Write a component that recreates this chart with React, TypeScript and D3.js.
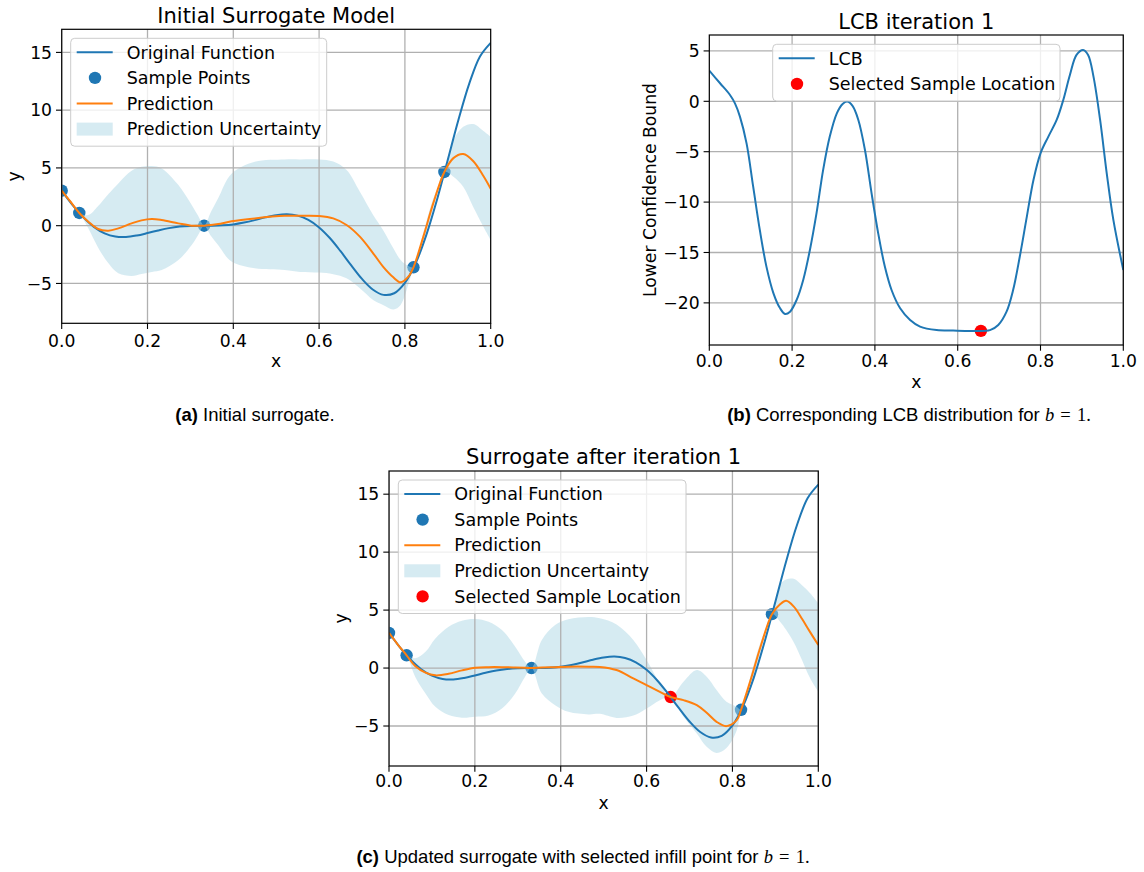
import React from "react";
import * as d3 from "d3";

const W = 1144;
const H = 872;
const FONT = "DejaVu Sans, Verdana, sans-serif";
const CAPTION_FONT = "Liberation Sans, Arial, Helvetica, sans-serif";
const MATH_FONT = "Liberation Serif, Times New Roman, serif";
const BLUE = "#1f77b4";
const ORANGE = "#ff7f0e";
const RED = "#ff0000";
const BAND = "#add8e6";
const TICK_SIZE = 17.2;
const LEGEND_SIZE = 17.5;
const TITLE_SIZE = 21;
const CAPTION_SIZE = 18.5;

// Forrester test function, sampled every 0.025
const funcX = [0, 0.025, 0.05, 0.075, 0.1, 0.125, 0.15, 0.175, 0.2, 0.225, 0.25, 0.275, 0.3, 0.325, 0.35, 0.375, 0.4, 0.425, 0.45, 0.475, 0.5, 0.525, 0.55, 0.575, 0.6, 0.625, 0.65, 0.675, 0.7, 0.725, 0.75, 0.775, 0.8, 0.825, 0.85, 0.875, 0.9, 0.925, 0.95, 0.975, 1.0];
const funcY = [3.03, 1.81, 0.74, -0.1, -0.66, -0.94, -0.98, -0.85, -0.64, -0.41, -0.21, -0.08, -0.02, 0.0, 0.0, 0.03, 0.11, 0.27, 0.48, 0.72, 0.91, 0.99, 0.87, 0.5, -0.15, -1.07, -2.21, -3.44, -4.61, -5.52, -5.99, -5.85, -4.95, -3.26, -0.8, 2.27, 5.71, 9.19, 12.3, 14.65, 15.83];

// Initial design
const sampleX = [0, 0.041, 0.332, 0.82, 0.892];
const sampleY = [3.03, 1.1, 0.0, -3.6, 4.65];

// Infill point picked by the LCB criterion
const selectedX = 0.656;
const selectedY = -2.5;
const selectedLcb = -22.78;

// Initial surrogate: prediction and uncertainty band
const predAX = [0, 0.02, 0.041, 0.062, 0.085, 0.109, 0.132, 0.163, 0.186, 0.21, 0.233, 0.272, 0.303, 0.318, 0.332, 0.348, 0.365, 0.396, 0.45, 0.52, 0.556, 0.6, 0.633, 0.664, 0.695, 0.726, 0.749, 0.773, 0.79, 0.808, 0.82, 0.843, 0.866, 0.892, 0.913, 0.936, 0.959, 0.983, 1.0];
const predAMean = [3.03, 2.1, 1.1, 0.35, -0.29, -0.43, -0.23, 0.2, 0.46, 0.58, 0.49, 0.2, 0.0, -0.01, 0.0, 0.05, 0.14, 0.38, 0.63, 0.85, 0.86, 0.84, 0.63, 0.06, -0.95, -2.39, -3.54, -4.47, -4.9, -4.41, -3.6, -0.95, 1.93, 4.65, 5.85, 6.2, 5.6, 4.3, 3.2];
const predALow = [3.03, 2.0, 1.1, -0.23, -1.9, -3.26, -4.12, -4.35, -4.18, -4.0, -3.83, -2.97, -1.67, -0.8, 0.0, -0.9, -1.7, -3.11, -3.69, -3.83, -4.0, -4.06, -4.2, -4.56, -5.42, -6.43, -6.86, -7.25, -6.86, -5.1, -3.6, -1.35, 1.5, 4.65, 4.24, 3.37, 1.64, -0.09, -1.24];
const predAHigh = [3.03, 2.2, 1.1, 0.92, 1.7, 2.74, 3.66, 4.75, 5.1, 5.16, 4.96, 3.52, 1.79, 0.85, 0.0, 1.2, 2.4, 4.5, 5.53, 5.73, 5.74, 5.74, 5.55, 4.82, 2.94, 0.93, -0.37, -1.96, -2.97, -3.5, -3.6, -0.6, 2.35, 4.65, 7.4, 8.56, 8.8, 8.2, 7.7];

// Lower confidence bound of the initial surrogate (b = 1)
const lcbX = [0, 0.026, 0.05, 0.062, 0.074, 0.09, 0.106, 0.122, 0.138, 0.155, 0.171, 0.183, 0.195, 0.211, 0.227, 0.243, 0.259, 0.275, 0.291, 0.308, 0.322, 0.333, 0.346, 0.36, 0.376, 0.392, 0.408, 0.424, 0.44, 0.461, 0.485, 0.509, 0.549, 0.589, 0.638, 0.678, 0.698, 0.718, 0.734, 0.75, 0.767, 0.783, 0.8, 0.819, 0.839, 0.855, 0.871, 0.887, 0.903, 0.915, 0.928, 0.944, 0.96, 0.976, 1.0];
const lcbY = [3.04, 1.79, 0.63, -0.2, -1.52, -4.17, -8.47, -12.76, -16.4, -19.05, -20.54, -21.1, -20.87, -19.7, -17.7, -14.75, -11.1, -6.8, -3.5, -1.19, -0.26, -0.03, -0.46, -1.85, -4.83, -9.13, -13.1, -16.4, -18.7, -20.54, -21.7, -22.35, -22.7, -22.75, -22.78, -22.7, -22.19, -20.87, -18.7, -15.4, -11.44, -7.8, -5.16, -3.5, -1.85, 0.13, 2.61, 4.6, 5.09, 4.6, 2.45, -1.85, -7.14, -11.77, -16.73];

// Surrogate refitted after the first infill point
const predCX = [0, 0.02, 0.041, 0.061, 0.085, 0.108, 0.139, 0.17, 0.201, 0.232, 0.263, 0.294, 0.317, 0.332, 0.356, 0.387, 0.418, 0.465, 0.491, 0.53, 0.569, 0.6, 0.631, 0.656, 0.686, 0.717, 0.74, 0.763, 0.786, 0.81, 0.82, 0.843, 0.866, 0.892, 0.911, 0.925, 0.943, 0.962, 0.981, 1.0];
const predCMean = [3.03, 2.05, 1.1, 0.17, -0.4, -0.63, -0.5, -0.2, 0.03, 0.08, 0.08, 0.05, 0.02, 0.0, 0.04, 0.08, 0.12, 0.12, 0.1, -0.17, -0.89, -1.47, -2.05, -2.5, -2.77, -3.2, -3.86, -4.64, -5.01, -4.5, -3.6, -0.95, 1.9, 4.65, 5.5, 5.8, 5.3, 4.25, 3.1, 1.99];
const predCLow = [3.03, 1.95, 1.1, -0.75, -2.19, -3.34, -4.06, -4.29, -4.21, -4.1, -3.5, -2.19, -0.75, 0.0, -2.19, -3.2, -3.78, -4.0, -3.95, -4.3, -4.1, -3.49, -2.77, -2.5, -4.21, -5.65, -6.8, -7.32, -6.9, -5.36, -3.6, -1.3, 1.5, 4.65, 4.0, 3.3, 2.2, 0.7, -0.89, -2.05];
const predCHigh = [3.03, 2.15, 1.1, 0.84, 1.41, 2.56, 3.57, 4.09, 4.24, 4.0, 3.29, 1.84, 0.55, 0.0, 2.42, 3.72, 4.2, 4.4, 4.29, 3.75, 2.42, 0.69, -1.33, -2.5, -1.18, -0.17, -0.75, -1.9, -2.91, -3.34, -3.6, -0.55, 2.3, 4.65, 7.18, 7.65, 7.7, 7.15, 6.46, 5.59];

// Axis ticks
const xTicks = [0, 0.2, 0.4, 0.6, 0.8, 1.0];
const yTicksSurrogate = [-5, 0, 5, 10, 15];
const yTicksLcb = [-20, -15, -10, -5, 0, 5];

type Box = { left: number; right: number; top: number; bottom: number };
type Scale = d3.ScaleLinear<number, number>;
type Pt = [number, number];

const zip = (xs: number[], ys: number[]): Pt[] => xs.map((x, i) => [x, ys[i]]);
const fmtY = (v: number) => (v < 0 ? "\u2212" + Math.abs(v) : String(v));

function linePath(x: Scale, y: Scale, pts: Pt[]) {
  return (
    d3
      .line<Pt>()
      .x((d) => x(d[0]))
      .y((d) => y(d[1]))
      .curve(d3.curveCatmullRom.alpha(0.5))(pts) || ""
  );
}

function bandPath(x: Scale, y: Scale, xs: number[], lo: number[], hi: number[]) {
  const rows = xs.map((v, i) => ({ x: v, lo: lo[i], hi: hi[i] }));
  return (
    d3
      .area<{ x: number; lo: number; hi: number }>()
      .x((d) => x(d.x))
      .y0((d) => y(d.lo))
      .y1((d) => y(d.hi))
      .curve(d3.curveCatmullRom.alpha(0.5))(rows) || ""
  );
}

type LegendItem = { kind: "line" | "dot" | "patch"; color: string; label: string };

function Legend({ x, y, width, items }: { x: number; y: number; width: number; items: LegendItem[] }) {
  const rowH = 25.6;
  const h = items.length * rowH + 5.5;
  return (
    <g>
      <rect x={x} y={y} width={width} height={h} rx={4} ry={4} fill="#ffffff" fillOpacity={0.8} stroke="#cccccc" strokeWidth={1} />
      {items.map((it, i) => {
        const cy = y + 14 + i * rowH;
        return (
          <g key={it.label}>
            {it.kind === "line" && <line x1={x + 6} x2={x + 42} y1={cy} y2={cy} stroke={it.color} strokeWidth={2} />}
            {it.kind === "dot" && <circle cx={x + 24.3} cy={cy} r={6.2} fill={it.color} />}
            {it.kind === "patch" && <rect x={x + 6} y={cy - 6.5} width={36} height={13} fill={it.color} fillOpacity={0.5} />}
            <text x={x + 56} y={cy + 6.2} fontFamily={FONT} fontSize={LEGEND_SIZE} fill="#000">
              {it.label}
            </text>
          </g>
        );
      })}
    </g>
  );
}

type PanelProps = {
  id: string;
  box: Box;
  yDomain: [number, number];
  yTicks: number[];
  title: string;
  titleY: number;
  yLabel: string;
  yLabelX: number;
  xTickY: number;
  xLabelY: number;
  under: (x: Scale, y: Scale) => React.ReactNode;
  over: (x: Scale, y: Scale) => React.ReactNode;
  legend: React.ReactNode;
};

function Panel(p: PanelProps) {
  const { box } = p;
  const x = d3.scaleLinear().domain([0, 1]).range([box.left, box.right]);
  const y = d3.scaleLinear().domain(p.yDomain).range([box.bottom, box.top]);
  const cx = (box.left + box.right) / 2;
  const cy = (box.top + box.bottom) / 2;
  const tickLen = 5.7;
  return (
    <g>
      <defs>
        <clipPath id={p.id}>
          <rect x={box.left} y={box.top} width={box.right - box.left} height={box.bottom - box.top} />
        </clipPath>
      </defs>
      <g clipPath={`url(#${p.id})`}>
        {p.under(x, y)}
        {xTicks.map((t) => (
          <line key={"gx" + t} x1={x(t)} x2={x(t)} y1={box.top} y2={box.bottom} stroke="#b0b0b0" strokeWidth={1.3} />
        ))}
        {p.yTicks.map((t) => (
          <line key={"gy" + t} x1={box.left} x2={box.right} y1={y(t)} y2={y(t)} stroke="#b0b0b0" strokeWidth={1.3} />
        ))}
        {p.over(x, y)}
      </g>
      <rect x={box.left} y={box.top} width={box.right - box.left} height={box.bottom - box.top} fill="none" stroke="#000" strokeWidth={1.2} />
      {xTicks.map((t) => (
        <g key={"tx" + t}>
          <line x1={x(t)} x2={x(t)} y1={box.bottom} y2={box.bottom + tickLen} stroke="#000" strokeWidth={1.1} />
          <text x={x(t)} y={p.xTickY} textAnchor="middle" fontFamily={FONT} fontSize={TICK_SIZE}>
            {t.toFixed(1)}
          </text>
        </g>
      ))}
      {p.yTicks.map((t) => (
        <g key={"ty" + t}>
          <line x1={box.left - tickLen} x2={box.left} y1={y(t)} y2={y(t)} stroke="#000" strokeWidth={1.1} />
          <text x={box.left - tickLen - 4} y={y(t) + 6.2} textAnchor="end" fontFamily={FONT} fontSize={TICK_SIZE}>
            {fmtY(t)}
          </text>
        </g>
      ))}
      <text x={cx} y={p.xLabelY} textAnchor="middle" fontFamily={FONT} fontSize={TICK_SIZE}>
        x
      </text>
      <text transform={`translate(${p.yLabelX},${cy}) rotate(-90)`} textAnchor="middle" fontFamily={FONT} fontSize={TICK_SIZE}>
        {p.yLabel}
      </text>
      <text x={cx} y={p.titleY} textAnchor="middle" fontFamily={FONT} fontSize={TITLE_SIZE}>
        {p.title}
      </text>
      {p.legend}
    </g>
  );
}

const SURR_DOMAIN: [number, number] = [-8.45, 17.0];
const LCB_DOMAIN: [number, number] = [-24.18, 6.58];

const funcPts = zip(funcX, funcY);

function SamplePoints({ x, y }: { x: Scale; y: Scale }) {
  return (
    <g>
      {sampleX.map((sx, i) => (
        <circle key={i} cx={x(sx)} cy={y(sampleY[i])} r={6.2} fill={BLUE} />
      ))}
    </g>
  );
}

function MathB() {
  return (
    <>
      <tspan fontFamily={MATH_FONT} fontStyle="italic">b</tspan>
      <tspan fontFamily={MATH_FONT}>{"\u2004=\u20041."}</tspan>
    </>
  );
}

export default function App() {
  const boxA: Box = { left: 61.7, right: 490.7, top: 29.3, bottom: 323.3 };
  const boxB: Box = { left: 709.3, right: 1123.3, top: 35, bottom: 345 };
  const boxC: Box = { left: 389, right: 818.3, top: 471, bottom: 766 };

  const surrogateLegend: LegendItem[] = [
    { kind: "line", color: BLUE, label: "Original Function" },
    { kind: "dot", color: BLUE, label: "Sample Points" },
    { kind: "line", color: ORANGE, label: "Prediction" },
    { kind: "patch", color: BAND, label: "Prediction Uncertainty" },
  ];

  return (
    <svg width={W} height={H} viewBox={`0 0 ${W} ${H}`} style={{ position: "absolute", left: 0, top: 0, background: "#fff" }}>
      <rect x={0} y={0} width={W} height={H} fill="#fff" />

      <Panel
        id="clip-a"
        box={boxA}
        yDomain={SURR_DOMAIN}
        yTicks={yTicksSurrogate}
        title="Initial Surrogate Model"
        titleY={22.7}
        yLabel="y"
        yLabelX={20}
        xTickY={346.5}
        xLabelY={367}
        under={(x, y) => (
          <g>
            <SamplePoints x={x} y={y} />
            <path d={bandPath(x, y, predAX, predALow, predAHigh)} fill={BAND} fillOpacity={0.5} />
          </g>
        )}
        over={(x, y) => (
          <g fill="none" strokeWidth={2}>
            <path d={linePath(x, y, funcPts)} stroke={BLUE} />
            <path d={linePath(x, y, zip(predAX, predAMean))} stroke={ORANGE} />
          </g>
        )}
        legend={<Legend x={70.7} y={38.3} width={256} items={surrogateLegend} />}
      />

      <Panel
        id="clip-b"
        box={boxB}
        yDomain={LCB_DOMAIN}
        yTicks={yTicksLcb}
        title="LCB iteration 1"
        titleY={29.3}
        yLabel="Lower Confidence Bound"
        yLabelX={656}
        xTickY={366.7}
        xLabelY={388}
        under={(x, y) => <circle cx={x(selectedX)} cy={y(selectedLcb)} r={6.2} fill={RED} />}
        over={(x, y) => <path d={linePath(x, y, zip(lcbX, lcbY))} fill="none" stroke={BLUE} strokeWidth={2} />}
        legend={
          <Legend
            x={772.7}
            y={44.3}
            width={287.3}
            items={[
              { kind: "line", color: BLUE, label: "LCB" },
              { kind: "dot", color: RED, label: "Selected Sample Location" },
            ]}
          />
        }
      />

      <Panel
        id="clip-c"
        box={boxC}
        yDomain={SURR_DOMAIN}
        yTicks={yTicksSurrogate}
        title="Surrogate after iteration 1"
        titleY={464.3}
        yLabel="y"
        yLabelX={347}
        xTickY={787.2}
        xLabelY={809}
        under={(x, y) => (
          <g>
            <SamplePoints x={x} y={y} />
            <path d={bandPath(x, y, predCX, predCLow, predCHigh)} fill={BAND} fillOpacity={0.5} />
            <circle cx={x(selectedX)} cy={y(selectedY)} r={6.2} fill={RED} />
          </g>
        )}
        over={(x, y) => (
          <g fill="none" strokeWidth={2}>
            <path d={linePath(x, y, funcPts)} stroke={BLUE} />
            <path d={linePath(x, y, zip(predCX, predCMean))} stroke={ORANGE} />
          </g>
        )}
        legend={
          <Legend
            x={398.3}
            y={480}
            width={287.7}
            items={[...surrogateLegend, { kind: "dot", color: RED, label: "Selected Sample Location" }]}
          />
        }
      />

      <text x={255} y={421} textAnchor="middle" fontFamily={CAPTION_FONT} fontSize={CAPTION_SIZE} fill="#000">
        <tspan fontWeight="bold">(a)</tspan>
        {" Initial surrogate."}
      </text>
      <text x={909} y={421} textAnchor="middle" fontFamily={CAPTION_FONT} fontSize={CAPTION_SIZE} fill="#000">
        <tspan fontWeight="bold">(b)</tspan>
        {" Corresponding LCB distribution for "}
        <MathB />
      </text>
      <text x={583} y={863} textAnchor="middle" fontFamily={CAPTION_FONT} fontSize={CAPTION_SIZE} fill="#000">
        <tspan fontWeight="bold">(c)</tspan>
        {" Updated surrogate with selected infill point for "}
        <MathB />
      </text>
    </svg>
  );
}
